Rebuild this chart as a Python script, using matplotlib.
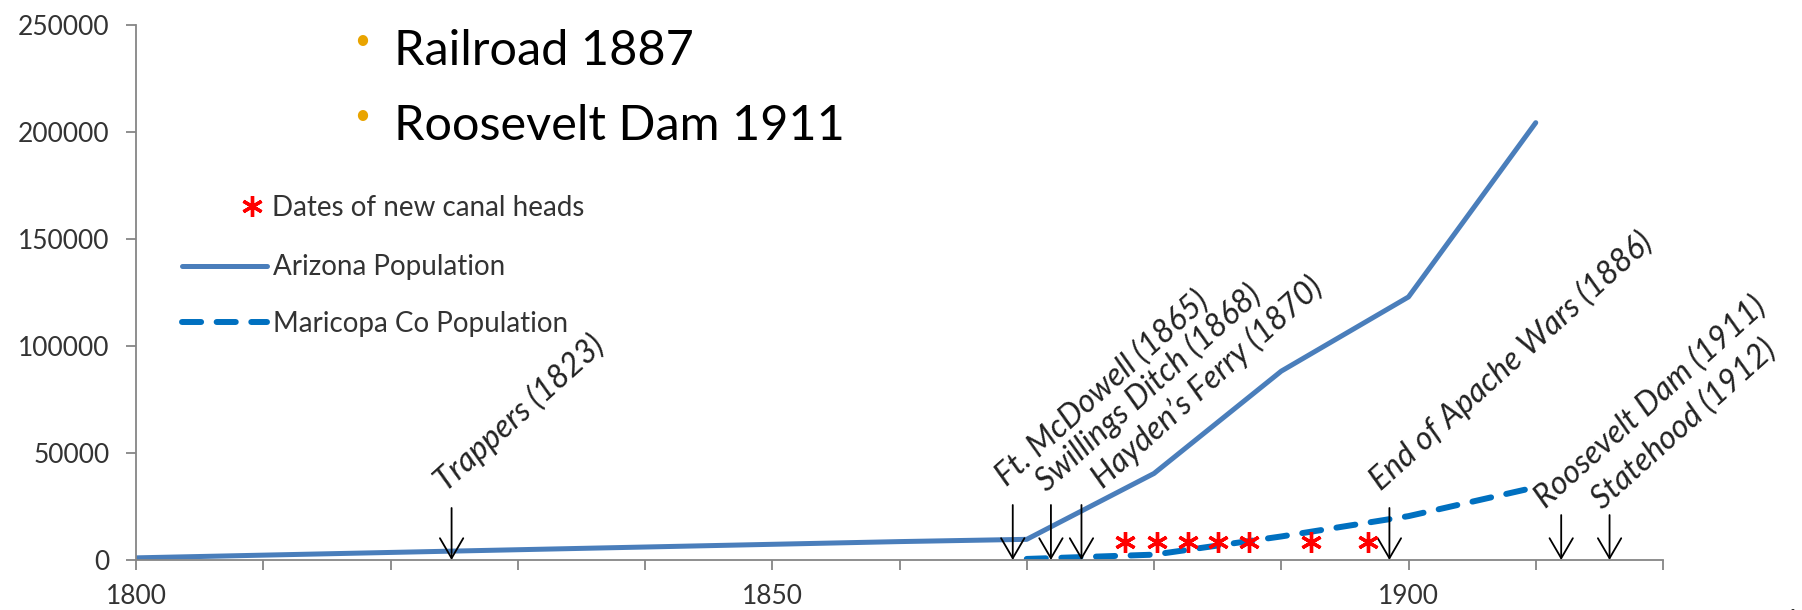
import matplotlib
matplotlib.use("Agg")
import matplotlib.pyplot as plt
from matplotlib.lines import Line2D

plt.rcParams['font.family'] = ['Lato', 'DejaVu Sans']

# population
az_years = [1800, 1860, 1870, 1880, 1890, 1900, 1910]
az_pop = [1000, 8600, 9658, 40440, 88243, 122931, 204354]
mc_years = [1870, 1880, 1890, 1900, 1910]
mc_pop = [500, 2500, 11000, 20500, 34000]

# dates of new canal heads (red asterisks)
canal_years = [1877.7, 1880.2, 1882.7, 1885.0, 1887.5, 1892.3, 1896.8]
canal_y = [8500, 8500, 8500, 8500, 8500, 8500, 8500]

# event arrows
event_labels = ["Trappers (1823)", "Ft. McDowell (1865)", "Swillings Ditch (1868)",
                "Hayden\u2019s Ferry (1870)", "End of Apache Wars (1886)",
                "Roosevelt Dam (1911)", "Statehood (1912)"]
event_x = [1824.8, 1868.9, 1871.9, 1874.3, 1898.5, 1912.0, 1915.8]
event_top = [24300, 25700, 25700, 25700, 24300, 21000, 21000]
label_dx = [-6, -6, -4, 22, -8, -15, -7]   # pixels from arrow top
label_dy = [15, 18, 12, 15, 16, 6, 5]

x_ticks = list(range(1800, 1921, 10))
x_labels = ["1800", "", "", "", "", "1850", "", "", "", "", "1900", "", ""]
y_ticks = [0, 50000, 100000, 150000, 200000, 250000]

bullets = ["Railroad 1887", "Roosevelt Dam 1911"]

W, H = 1802, 610
fig = plt.figure(figsize=(W / 100, H / 100), dpi=100)
ax = fig.add_axes([136 / W, 1 - 560 / H, (1663 - 136) / W, (560 - 25) / H])

az_line, = ax.plot(az_years, az_pop, color='#4A7EBB', lw=3.6,
                   solid_joinstyle='round', solid_capstyle='round')
mc_line, = ax.plot(mc_years, mc_pop, color='#0070C0', lw=4.3, dashes=(3.2, 2.6),
                   dash_capstyle='round')
ax.plot(canal_years, canal_y, ls='none', marker=(6, 2, 0), ms=15, mew=2.4,
        color='red', zorder=4)

ax.set_xlim(1800, 1920)
ax.set_ylim(0, 250000)
for s in ['top', 'right']:
    ax.spines[s].set_visible(False)
for s in ['left', 'bottom']:
    ax.spines[s].set_color('#868686')
    ax.spines[s].set_linewidth(1.3)
ax.set_xticks(x_ticks)
ax.set_xticklabels(x_labels)
ax.set_yticks(y_ticks)
ax.set_yticklabels([str(v) for v in y_ticks])
ax.tick_params(axis='both', colors='#868686', labelcolor='#333333',
               length=7, width=1.3, labelsize=19)
ax.tick_params(axis='x', pad=10)
ax.tick_params(axis='y', pad=12)

for x, top, lab, dx, dy in zip(event_x, event_top, event_labels, label_dx, label_dy):
    ax.annotate('', xy=(x, 0), xytext=(x, top),
                arrowprops=dict(arrowstyle='->,head_length=0.72,head_width=0.42',
                                mutation_scale=20, lw=1.3, color='black',
                                shrinkA=0, shrinkB=0))
    ax.annotate(lab, xy=(x, top), xytext=(dx, dy), textcoords='offset pixels',
                rotation=42, rotation_mode='anchor', ha='left', va='baseline',
                fontsize=23, style='italic', color='#222222')

# legend: asterisk entry and line entries separately
star = Line2D([], [], ls='none', marker=(6, 2, 0), ms=15, mew=2.4, color='red')
leg1 = ax.legend([star], ['Dates of new canal heads'], loc='center left',
                 bbox_to_anchor=(240 / W, 1 - 208 / H), bbox_transform=fig.transFigure,
                 frameon=False, fontsize=20, handlelength=0.85, handletextpad=0.3,
                 borderpad=0, borderaxespad=0)
for t in leg1.get_texts():
    t.set_color('#333333')
ax.add_artist(leg1)
leg2 = ax.legend([az_line, mc_line], ['Arizona Population', 'Maricopa Co Population'],
                 loc='center left', bbox_to_anchor=(182 / W, 1 - 295.5 / H),
                 bbox_transform=fig.transFigure, frameon=False, fontsize=20,
                 handlelength=3.05, handletextpad=0.22, labelspacing=1.1,
                 borderpad=0, borderaxespad=0)
for t in leg2.get_texts():
    t.set_color('#333333')

# bullet text at top
for i, b in enumerate(bullets):
    base = [65, 140][i]
    fig.text(362 / W, 1 - (base - 24) / H, '\u2022', color='#E9A400', fontsize=20,
             ha='center', va='center')
    fig.text(394 / W, 1 - base / H, b, fontsize=35, ha='left', va='baseline',
             color='black')

fig.text(1792 / W, 1 - 622 / H, '1', fontsize=20, ha='center', va='center',
         color='#333333')

fig.savefig('out.png', dpi=100)
